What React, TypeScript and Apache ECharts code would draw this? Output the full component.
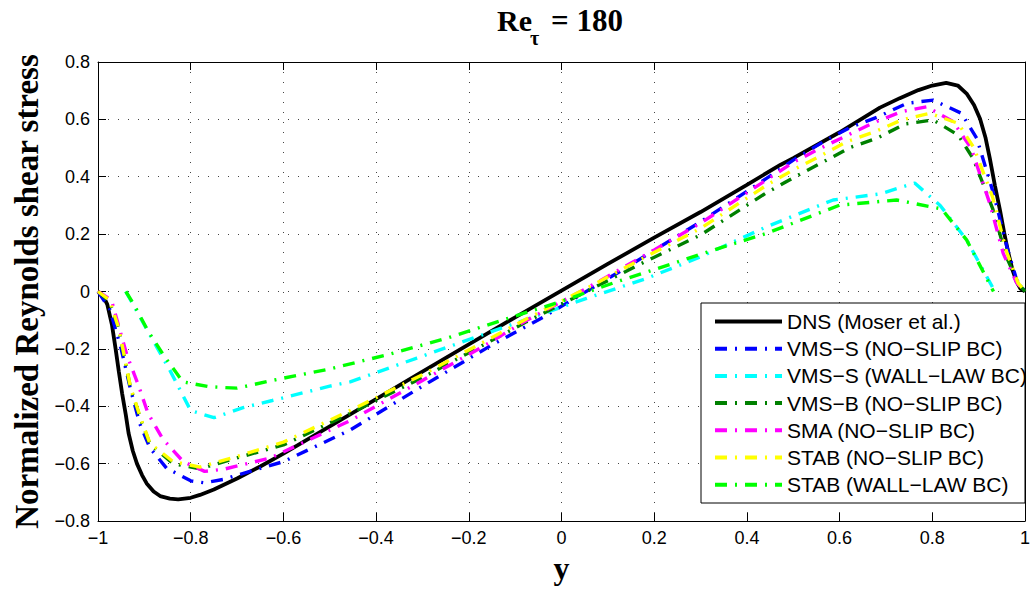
import React, { useEffect, useRef } from 'react';
import * as echarts from 'echarts';

// ---------- data (y position, normalized Reynolds shear stress) ----------
const seriesNames = [
  'DNS (Moser et al.)',
  'VMS−S (NO−SLIP BC)',
  'VMS−S (WALL−LAW BC)',
  'VMS−B (NO−SLIP BC)',
  'SMA (NO−SLIP BC)',
  'STAB (NO−SLIP BC)',
  'STAB (WALL−LAW BC)',
];

const dns = [
  [-1, 0], [-0.99, -0.012], [-0.98, -0.045], [-0.97, -0.115], [-0.962, -0.2], [-0.955, -0.28],
  [-0.948, -0.355], [-0.94, -0.43], [-0.934, -0.494], [-0.925, -0.555], [-0.916, -0.6],
  [-0.905, -0.64], [-0.895, -0.669], [-0.88, -0.697], [-0.866, -0.713], [-0.845, -0.722],
  [-0.827, -0.725], [-0.8, -0.719], [-0.78, -0.709], [-0.75, -0.69], [-0.7, -0.652],
  [-0.65, -0.61], [-0.6, -0.565], [-0.5, -0.47], [-0.4, -0.375], [-0.3, -0.279], [-0.2, -0.184],
  [-0.1, -0.09], [0, 0.003], [0.1, 0.096], [0.2, 0.188], [0.3, 0.277], [0.4, 0.372],
  [0.472, 0.441], [0.5, 0.465], [0.6, 0.555], [0.687, 0.641], [0.73, 0.674], [0.77, 0.702],
  [0.8, 0.718], [0.83, 0.727], [0.855, 0.718], [0.874, 0.69], [0.89, 0.65], [0.903, 0.602],
  [0.915, 0.535], [0.924, 0.465], [0.935, 0.37], [0.946, 0.284], [0.955, 0.205], [0.964, 0.135],
  [0.973, 0.075], [0.982, 0.034], [0.99, 0.01], [1, 0],
];

const vmsSNoSlip = [
  [-1, 0], [-0.975, -0.06], [-0.95, -0.2], [-0.93, -0.34], [-0.91, -0.46], [-0.888, -0.545],
  [-0.852, -0.616], [-0.8, -0.66], [-0.77, -0.667], [-0.73, -0.655], [-0.6, -0.593],
  [-0.456, -0.483], [-0.3, -0.33], [-0.154, -0.19], [-0.04, -0.09], [0.126, 0.07], [0.3, 0.243],
  [0.443, 0.395], [0.5, 0.458], [0.565, 0.522], [0.623, 0.572], [0.683, 0.609], [0.745, 0.656],
  [0.802, 0.667], [0.863, 0.621], [0.896, 0.534], [0.932, 0.342], [0.961, 0.156], [0.982, 0.04],
  [1, 0],
];

const vmsSWallLaw = [
  [-0.94, 0], [-0.892, -0.14], [-0.845, -0.274], [-0.8, -0.415], [-0.75, -0.44], [-0.687, -0.405],
  [-0.624, -0.38], [-0.5, -0.33], [-0.456, -0.315], [-0.312, -0.232], [-0.183, -0.158],
  [0.054, -0.024], [0.184, 0.046], [0.3, 0.121], [0.443, 0.226], [0.586, 0.319], [0.687, 0.34],
  [0.762, 0.378], [0.817, 0.3], [0.874, 0.18], [0.935, 0],
];

const vmsBNoSlip = [
  [-1, 0], [-0.975, -0.035], [-0.955, -0.13], [-0.93, -0.335], [-0.909, -0.44], [-0.888, -0.532],
  [-0.838, -0.6], [-0.78, -0.618], [-0.7, -0.58], [-0.6, -0.535], [-0.456, -0.425], [-0.3, -0.3],
  [-0.19, -0.205], [-0.075, -0.105], [0.054, 0.0], [0.169, 0.095], [0.3, 0.197], [0.443, 0.345],
  [0.504, 0.4], [0.565, 0.452], [0.623, 0.502], [0.68, 0.534], [0.741, 0.584], [0.802, 0.598],
  [0.856, 0.545], [0.888, 0.464], [0.93, 0.29], [0.96, 0.12], [0.985, 0.03], [1, 0],
];

const smaNoSlip = [
  [-1, 0], [-0.971, -0.03], [-0.938, -0.22], [-0.913, -0.326], [-0.892, -0.425], [-0.86, -0.515],
  [-0.816, -0.593], [-0.77, -0.627], [-0.73, -0.62], [-0.629, -0.581], [-0.456, -0.45],
  [-0.3, -0.31], [-0.176, -0.198], [-0.075, -0.1], [0.054, 0.011], [0.2, 0.145], [0.3, 0.238],
  [0.443, 0.39], [0.5, 0.45], [0.558, 0.499], [0.673, 0.588], [0.734, 0.627], [0.788, 0.644],
  [0.845, 0.592], [0.884, 0.499], [0.924, 0.307], [0.953, 0.133], [0.982, 0.03], [1, 0],
];

const stabNoSlip = [
  [-1, 0], [-0.975, -0.03], [-0.955, -0.13], [-0.93, -0.332], [-0.909, -0.436], [-0.888, -0.529],
  [-0.838, -0.593], [-0.78, -0.612], [-0.7, -0.575], [-0.6, -0.525], [-0.456, -0.415],
  [-0.3, -0.29], [-0.19, -0.195], [-0.075, -0.095], [0.054, 0.011], [0.169, 0.11], [0.3, 0.22],
  [0.443, 0.371], [0.5, 0.424], [0.558, 0.472], [0.615, 0.522], [0.676, 0.557], [0.734, 0.598],
  [0.795, 0.621], [0.856, 0.586], [0.89, 0.5], [0.93, 0.33], [0.96, 0.14], [0.985, 0.03], [1, 0],
];

const stabWallLaw = [
  [-0.94, 0], [-0.922, -0.047], [-0.892, -0.138], [-0.856, -0.228], [-0.817, -0.315],
  [-0.76, -0.332], [-0.7, -0.337], [-0.624, -0.31], [-0.5, -0.27], [-0.377, -0.221],
  [-0.248, -0.163], [-0.126, -0.099], [-0.003, -0.036], [0.119, 0.034], [0.241, 0.098],
  [0.3, 0.13], [0.443, 0.203], [0.6, 0.301], [0.723, 0.319], [0.82, 0.288], [0.874, 0.18],
  [0.932, 0],
];

const seriesData = [dns, vmsSNoSlip, vmsSWallLaw, vmsBNoSlip, smaNoSlip, stabNoSlip, stabWallLaw];

// ---------- styles ----------
const DASHDOT = [12, 8, 2, 8];
const lineStyles = [
  { color: '#000000', width: 3.8, type: 'solid' as any },
  { color: '#0000ff', width: 3.4, type: DASHDOT },
  { color: '#00ffff', width: 3.4, type: DASHDOT },
  { color: '#008000', width: 3.4, type: DASHDOT },
  { color: '#ff00ff', width: 3.4, type: DASHDOT },
  { color: '#ffff00', width: 3.4, type: DASHDOT },
  { color: '#00ff00', width: 3.4, type: DASHDOT },
];

const fmt = (v: number) => {
  const r = Math.round(v * 10) / 10;
  return String(r).replace('-', '−');
};

const SANS = '"Liberation Sans", Arial, Helvetica, sans-serif';
const SERIF = '"Liberation Serif", "Times New Roman", serif';

export default function App() {
  const ref = useRef<HTMLDivElement>(null);

  useEffect(() => {
    if (!ref.current) return;
    const chart = echarts.init(ref.current, undefined, { renderer: 'svg' });

    const gridLine = { show: true, lineStyle: { color: '#444', type: [1, 9], width: 1 } };
    const axisLine = { show: true, onZero: false, lineStyle: { color: '#000', width: 1 } };
    const tick = { show: true, inside: true, length: 8, lineStyle: { color: '#000', width: 1 } };

    const option: any = {
      animation: false,
      backgroundColor: '#ffffff',
      grid: { left: 98, top: 62, right: 9, bottom: 72, containLabel: false },
      xAxis: [
        {
          type: 'value', min: -1, max: 1, interval: 0.2, position: 'bottom',
          axisLine, axisTick: tick, splitLine: gridLine,
          axisLabel: { formatter: fmt, color: '#000', fontSize: 18, fontFamily: SANS, margin: 8 },
          name: 'y', nameLocation: 'middle', nameGap: 29,
          nameTextStyle: { color: '#000', fontSize: 32, fontWeight: 'bold', fontFamily: SERIF },
        },
        {
          type: 'value', min: -1, max: 1, interval: 0.2, position: 'top',
          axisLine, axisTick: tick, splitLine: { show: false }, axisLabel: { show: false },
        },
      ],
      yAxis: [
        {
          type: 'value', min: -0.8, max: 0.8, interval: 0.2, position: 'left',
          axisLine, axisTick: tick, splitLine: gridLine,
          axisLabel: { formatter: fmt, color: '#000', fontSize: 18, fontFamily: SANS, margin: 8 },
          name: 'Normalized Reynolds shear stress', nameLocation: 'middle', nameGap: 52, nameRotate: 90,
          nameTextStyle: { color: '#000', fontSize: 33, fontWeight: 'bold', fontFamily: SERIF },
        },
        {
          type: 'value', min: -0.8, max: 0.8, interval: 0.2, position: 'right',
          axisLine, axisTick: tick, splitLine: { show: false }, axisLabel: { show: false },
        },
      ],
      legend: {
        orient: 'vertical', left: 713, top: 311, padding: 0,
        itemWidth: 67, itemHeight: 21, itemGap: 6.2,
        data: seriesNames,
        itemStyle: { opacity: 0, borderWidth: 0, color: 'transparent' },
        lineStyle: { width: 4 },
        textStyle: { color: '#000', fontSize: 21, lineHeight: 21, fontFamily: SANS },
        z: 20,
      },
      graphic: [
        {
          type: 'rect', z: 10,
          shape: { x: 701, y: 303, width: 324, height: 200 },
          style: { fill: '#ffffff', stroke: '#000000', lineWidth: 1 },
        },
        {
          type: 'text', z: 10, x: 497, y: 20,
          style: { text: 'Re', font: `bold 30px ${SERIF}`, fill: '#000', verticalAlign: 'middle', align: 'left' },
        },
        {
          type: 'text', z: 10, x: 530, y: 38,
          style: { text: 'τ', font: `bold 20px ${SERIF}`, fill: '#000', verticalAlign: 'middle', align: 'left' },
        },
        {
          type: 'text', z: 10, x: 551, y: 20,
          style: { text: '= 180', font: `bold 31px ${SERIF}`, fill: '#000', verticalAlign: 'middle', align: 'left' },
        },
      ],
      series: seriesData.map((d, i) => ({
        type: 'line',
        name: seriesNames[i],
        data: d,
        showSymbol: false,
        symbol: 'none',
        clip: true,
        lineStyle: lineStyles[i],
        itemStyle: { color: lineStyles[i].color },
      })),
    };

    chart.setOption(option);
    return () => chart.dispose();
  }, []);

  return (
    <div
      ref={ref}
      style={{ position: 'absolute', left: 0, top: 0, width: 1034, height: 593, background: '#fff' }}
    />
  );
}
